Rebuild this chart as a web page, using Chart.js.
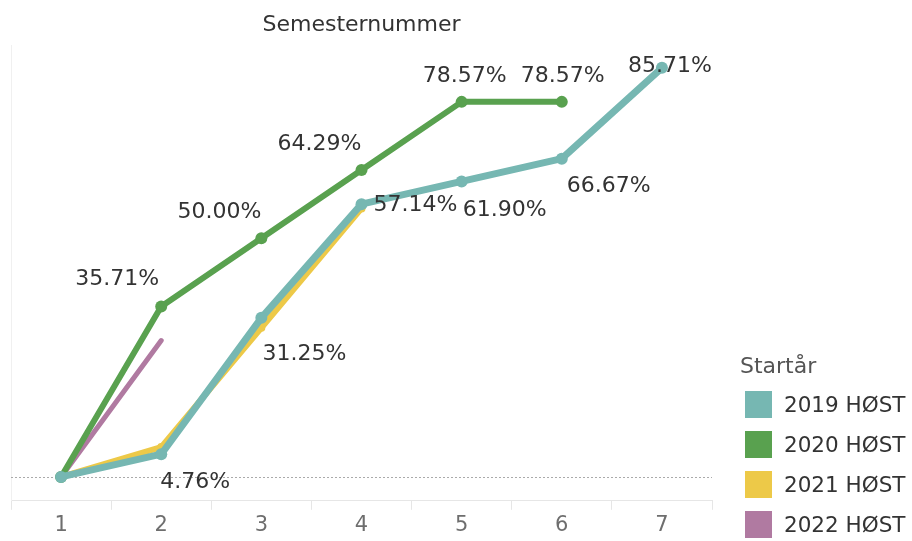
<!DOCTYPE html>
<html>
<head>
<meta charset="utf-8">
<script src="https://cdn.jsdelivr.net/npm/chart.js@4"></script>
<style>
  body { margin: 0; background: #fff; }
  #wrap { position: relative; width: 912px; height: 541px; }
  #legend { position: absolute; left: 740px; top: 351px; font-family: "DejaVu Sans", sans-serif; color: #333; }
  #legend .ttl { font-size: 22px; color: #555; height: 30px; line-height: 30px; margin-bottom: 3px; }
  #legend .item { display: flex; align-items: center; height: 40px; }
  #legend .sw { width: 27px; height: 27px; margin-left: 5px; margin-right: 12px; }
  #legend .lbl { font-size: 21.5px; }
</style>
</head>
<body>
<div id="wrap">
  <canvas id="grafico" width="912" height="541"></canvas>
  <div id="legend"><div class="ttl">Startår</div></div>
</div>
<script>
const semestre = ['1', '2', '3', '4', '5', '6', '7'];
const serier   = ['2019 HØST', '2020 HØST', '2021 HØST', '2022 HØST'];
const farger   = ['#76b7b2', '#59a14f', '#edc948', '#b07aa1'];

const v2019 = [0, 4.76, 33.33, 57.14, 61.90, 66.67, 85.71];
const v2020 = [0, 35.71, 50.00, 64.29, 78.57, 78.57, null];
const v2021 = [0, 6.25, 31.25, 56.25, null, null, null];
const v2022 = [0, 28.57, null, null, null, null, null];

// hvor etikettene står i forhold til punktet (dx, dy), null = ingen etikett
const etikettPlass = [
  [null, [34, 28], null, [54, 1], [43, 29], [47, 28], [8, -2]],
  [null, [-44, -27], [-42, -26], [-42, -26], [3, -26], [1, -26], null],
  [null, null, [43, 27], null, null, null, null],
  [null, null, null, null, null, null, null]
];

const verdier = [v2019, v2020, v2021, v2022];
const bredde  = [7, 6, 6, 5];
const radius  = [6, 6, 4, 0];
const rekke   = [1, 2, 4, 3];

const fnt = '"DejaVu Sans", sans-serif';

const etiketter = {
  id: 'etiketter',
  beforeDatasetsDraw(chart) {
    const { ctx, chartArea, scales } = chart;
    const y0 = Math.round(scales.y.getPixelForValue(0));
    ctx.save();
    ctx.strokeStyle = '#aaa';
    ctx.lineWidth = 1;
    ctx.setLineDash([2, 2]);
    ctx.beginPath();
    ctx.moveTo(chartArea.left, y0 + 0.5);
    ctx.lineTo(chartArea.right, y0 + 0.5);
    ctx.stroke();
    ctx.restore();
  },
  afterDatasetsDraw(chart) {
    const ctx = chart.ctx;
    ctx.save();
    ctx.font = '22px ' + fnt;
    ctx.fillStyle = '#333';
    ctx.textAlign = 'center';
    ctx.textBaseline = 'middle';
    chart.data.datasets.forEach((ds, i) => {
      const meta = chart.getDatasetMeta(i);
      ds.data.forEach((v, j) => {
        const p = etikettPlass[i][j];
        if (v == null || !p) return;
        const pt = meta.data[j];
        ctx.fillText(v.toFixed(2) + '%', pt.x + p[0], pt.y + p[1]);
      });
    });
    ctx.restore();
  }
};

const datasets = serier.map((navn, i) => ({
  label: navn,
  data: verdier[i],
  borderColor: farger[i],
  backgroundColor: farger[i],
  borderWidth: bredde[i],
  pointRadius: radius[i],
  pointHoverRadius: radius[i],
  pointBorderWidth: 0,
  borderCapStyle: 'round',
  borderJoinStyle: 'round',
  tension: 0,
  spanGaps: false,
  order: rekke[i]
}));

new Chart(document.getElementById('grafico').getContext('2d'), {
  type: 'line',
  data: { labels: semestre, datasets: datasets },
  options: {
    responsive: false,
    animation: false,
    layout: { padding: { left: 11, right: 200, top: 0, bottom: 0 } },
    plugins: {
      legend: { display: false },
      tooltip: { enabled: false },
      title: {
        display: true,
        text: 'Semesternummer',
        color: '#333',
        font: { family: fnt, size: 22, weight: 'normal' },
        padding: { top: 12, bottom: 7 }
      }
    },
    scales: {
      x: {
        offset: true,
        grid: { offset: true, drawOnChartArea: false, drawTicks: true, tickLength: 9, color: '#e6e6e6' },
        border: { display: true, color: '#e6e6e6' },
        ticks: { color: '#6e6e6e', font: { family: fnt, size: 21 }, padding: 3 }
      },
      y: {
        min: -5,
        max: 90.4,
        ticks: { display: false },
        grid: { display: false, drawTicks: false },
        border: { display: true, color: '#f0f0f0' }
      }
    }
  },
  plugins: [etiketter]
});

const leg = document.getElementById('legend');
serier.forEach((navn, i) => {
  const d = document.createElement('div');
  d.className = 'item';
  d.innerHTML = '<div class="sw" style="background:' + farger[i] + '"></div><div class="lbl">' + navn + '</div>';
  leg.appendChild(d);
});
</script>
</body>
</html>
